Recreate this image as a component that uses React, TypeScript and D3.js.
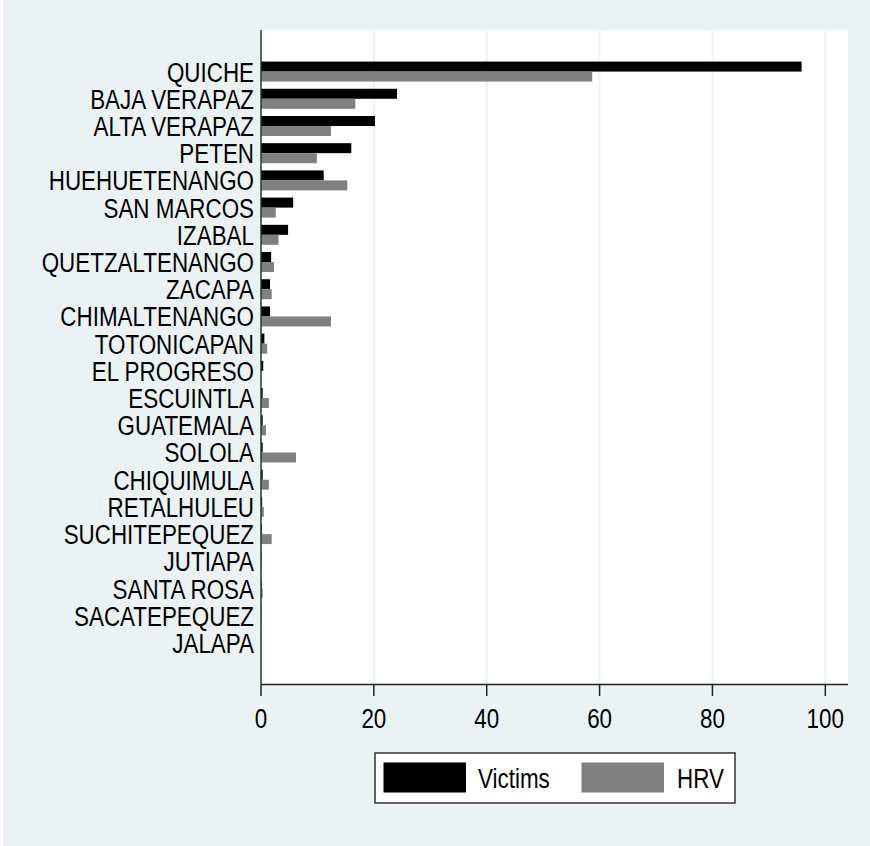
import React from "react";
import * as d3 from "d3";

const categories = [
  "QUICHE", "BAJA VERAPAZ", "ALTA VERAPAZ", "PETEN", "HUEHUETENANGO", "SAN MARCOS",
  "IZABAL", "QUETZALTENANGO", "ZACAPA", "CHIMALTENANGO", "TOTONICAPAN", "EL PROGRESO",
  "ESCUINTLA", "GUATEMALA", "SOLOLA", "CHIQUIMULA", "RETALHULEU", "SUCHITEPEQUEZ",
  "JUTIAPA", "SANTA ROSA", "SACATEPEQUEZ", "JALAPA",
];
const victims = [95.8, 24.1, 20.2, 16.0, 11.1, 5.7, 4.8, 1.8, 1.6, 1.6, 0.6, 0.4, 0.3, 0.3, 0.3, 0.3, 0.2, 0.15, 0.1, 0.1, 0.05, 0.03];
const hrv = [58.7, 16.7, 12.4, 9.9, 15.3, 2.6, 3.1, 2.3, 1.9, 12.4, 1.1, 0, 1.4, 0.9, 6.2, 1.4, 0.5, 1.9, 0.1, 0.3, 0.1, 0];
const xTicks = [0, 20, 40, 60, 80, 100];
const seriesNames = ["Victims", "HRV"];
const seriesColors = ["#000000", "#808080"];

const W = 870, H = 846;
const plot = { left: 261, right: 848, top: 30, bottom: 684.5 };
const BG = "#eaf2f3";
const FONT = "'Liberation Sans', Arial, Helvetica, sans-serif";
const SX = 0.8;

function NText({ x, y, anchor, size, children }: { x: number; y: number; anchor: string; size: number; children: React.ReactNode }) {
  return (
    <g transform={`translate(${x},${y}) scale(${SX},1)`}>
      <text x={0} y={0} textAnchor={anchor} fontSize={size} fontFamily={FONT} fill="#000">{children}</text>
    </g>
  );
}

export default function App() {
  const x = d3.scaleLinear().domain([0, 100]).range([261, 825.3]);
  const y = d3.scaleBand<string>().domain(categories).range([plot.top, plot.bottom]).paddingInner(0.265).paddingOuter(1.16);
  const bw = y.bandwidth();
  const sub = d3.scaleBand<string>().domain(seriesNames).range([0, bw]);
  const series = [victims, hrv];

  return (
    <div style={{ position: "absolute", left: 0, top: 0 }}>
      <svg width={W} height={H} xmlns="http://www.w3.org/2000/svg">
        <rect x={0} y={0} width={W} height={H} fill="#ffffff" />
        <rect x={3} y={0} width={W - 3} height={H} fill={BG} />
        <rect x={plot.left} y={plot.top} width={plot.right - plot.left} height={plot.bottom - plot.top} fill="#ffffff" />
        {xTicks.filter((t) => t > 0).map((t) => (
          <line key={"g" + t} x1={x(t)} x2={x(t)} y1={plot.top} y2={plot.bottom} stroke={BG} strokeWidth={2} />
        ))}
        {categories.map((c, i) => (
          <g key={c}>
            {series.map((s, k) => (
              <rect key={k} x={x(0)} y={(y(c) as number) + (sub(seriesNames[k]) as number)}
                width={Math.max(0, x(s[i]) - x(0))} height={sub.bandwidth()} fill={seriesColors[k]} />
            ))}
            <NText x={254} y={(y(c) as number) + bw / 2 + 10} anchor="end" size={28}>{c}</NText>
          </g>
        ))}
        <line x1={plot.left} x2={plot.left} y1={plot.top} y2={plot.bottom} stroke="#333" strokeWidth={1.5} />
        <line x1={plot.left} x2={plot.right} y1={plot.bottom} y2={plot.bottom} stroke="#222" strokeWidth={1.5} />
        {xTicks.map((t) => (
          <g key={"t" + t}>
            <line x1={x(t)} x2={x(t)} y1={plot.bottom} y2={plot.bottom + 11.5} stroke="#222" strokeWidth={1.5} />
            <NText x={x(t)} y={728} anchor="middle" size={28}>{t}</NText>
          </g>
        ))}
        <rect x={375} y={753} width={360} height={50} fill="#fff" stroke="#333" strokeWidth={1.5} />
        <rect x={383.5} y={762.5} width={82.5} height={30} fill={seriesColors[0]} />
        <NText x={478} y={788} anchor="start" size={28}>{seriesNames[0]}</NText>
        <rect x={581.5} y={762.5} width={82.5} height={30} fill={seriesColors[1]} />
        <NText x={677} y={788} anchor="start" size={28}>{seriesNames[1]}</NText>
      </svg>
    </div>
  );
}
